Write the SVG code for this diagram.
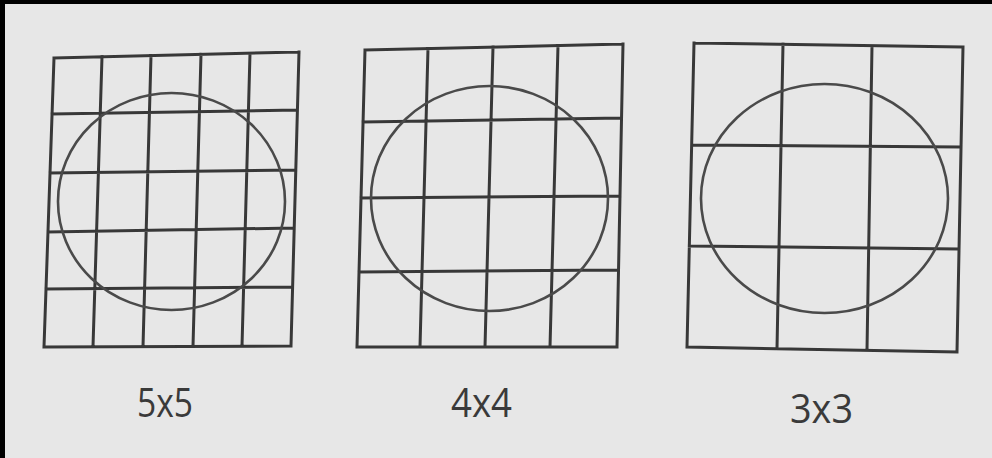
<svg xmlns="http://www.w3.org/2000/svg" width="992" height="458" viewBox="0 0 992 458">
<style>
.bg{fill:#e7e7e7}
.edge{fill:#000}
.grid{fill:none;stroke:#383838;stroke-width:3;stroke-linecap:square}
.circ{fill:none;stroke:#4a4a4a;stroke-width:2.6}
.lbl{font-family:"Open Sans","Liberation Sans",sans-serif;font-size:41px;fill:#3a3a3a}
</style>
<rect class="bg" x="0" y="0" width="992" height="458"/>
<rect class="edge" x="0" y="0" width="992" height="4"/>
<rect class="edge" x="0" y="0" width="5" height="458"/>
<g id="grid5x5">
<path class="grid" d="M54,58L44,347M102,56.8L93,346.8M151,55.6L143,346.6M201,54.4L193,346.4M250,53.2L242,346.2M299,52L291,346
M54,58L299,52M52,114L297.4,110M50,173L295.8,170M48,232L294.2,228M46,289L292.6,287M44,347L291,346"/>
<ellipse class="circ" cx="171.5" cy="201.5" rx="113.5" ry="108.5"/>
<text class="lbl" x="137" y="417" textLength="56" lengthAdjust="spacingAndGlyphs">5x5</text>
</g>
<g id="grid4x4">
<path class="grid" d="M365,50L357,347M428,48.5L420,347M493,47L485,347M558,45.5L550,347M623,44L617,347
M365,50L623,44M363,122L621.5,118M361,198L620,196M359,272L618.5,270M357,347L617,347"/>
<ellipse class="circ" cx="489.5" cy="198.5" rx="118.5" ry="112.5"/>
<text class="lbl" x="451" y="417" textLength="61" lengthAdjust="spacingAndGlyphs">4x4</text>
</g>
<g id="grid3x3">
<path class="grid" d="M694,43L687,347M783,44.3L777,348.7M872,45.7L867,350.3M963,47L957,352
M694,43L963,47M691.7,145L961,147M689.3,246L959,249M687,347L957,352"/>
<ellipse class="circ" cx="824.5" cy="198.5" rx="123.5" ry="114.5"/>
<text class="lbl" x="790" y="423" textLength="63" lengthAdjust="spacingAndGlyphs">3x3</text>
</g>
</svg>
